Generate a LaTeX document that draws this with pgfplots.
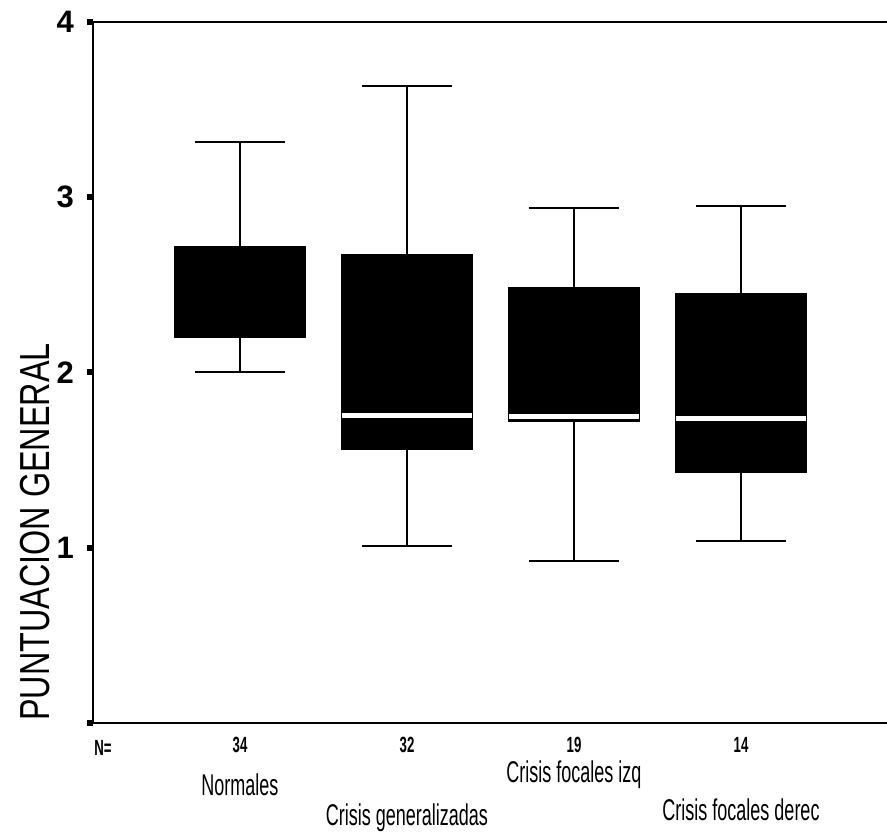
\documentclass[border=0pt]{standalone}
\usepackage{fontspec}
\setmainfont{Liberation Sans}
\newfontfamily\cond[FakeStretch=0.6]{Liberation Sans}
\newfontfamily\condlab[FakeStretch=0.77]{Liberation Sans}
\usepackage{pgfplots}
\usepgfplotslibrary{statistics}
\pgfplotsset{compat=1.18}
\begin{document}
\begin{tikzpicture}
\useasboundingbox (-46.5pt,-55pt) rectangle (397pt,361.5pt);
\begin{axis}[
  at={(0pt,0pt)}, anchor=south west,
  scale only axis, width=407.48pt, height=350.5pt,
  xmin=0.12, xmax=5.0, ymin=0, ymax=4,
  clip=false,
  xtick=\empty,
  ytick={0,1,2,3,4}, yticklabels={,1,2,3,4},
  ytick pos=left, tick align=outside,
  major tick length=3pt,
  ytick style={line width=3pt, black},
  /pgf/number format/assume math mode=true,
  yticklabel style={font=\bfseries\fontsize{15.5}{16}\selectfont, xshift=-3pt},
  axis line style={line width=1.1pt, black},
  boxplot/draw direction=y,
  boxplot/box extend=0.78,
  boxplot/whisker extend=0.54,
  boxplot/every whisker/.style={line width=1pt},
  boxplot/every box/.style={fill=black, draw=black, line width=0.8pt},
]
\addplot[black, boxplot prepared={median=2.50, upper quartile=2.716, lower quartile=2.203,
  upper whisker=3.315, lower whisker=2.003, draw position=1},
  boxplot/every median/.style={draw=black, line width=0.8pt}] coordinates {};
\addplot[black, boxplot prepared={median=1.757, upper quartile=2.670, lower quartile=1.563,
  upper whisker=3.635, lower whisker=1.010, draw position=2},
  boxplot/every median/.style={draw=white, line width=2.5pt}] coordinates {};
\addplot[black, boxplot prepared={median=1.748, upper quartile=2.482, lower quartile=1.720,
  upper whisker=2.939, lower whisker=0.924, draw position=3},
  boxplot/every median/.style={draw=white, line width=2.2pt}] coordinates {};
\addplot[black, boxplot prepared={median=1.740, upper quartile=2.448, lower quartile=1.432,
  upper whisker=2.950, lower whisker=1.039, draw position=4},
  boxplot/every median/.style={draw=white, line width=2.5pt}] coordinates {};
\end{axis}
\node[rotate=90, font=\condlab\fontsize{21}{21}\selectfont] at (-29pt,95.5pt) {PUNTUACION GENERAL};
\node[font=\cond\bfseries\fontsize{11}{11}\selectfont] at (5pt,-12.5pt) {N=};
\node[font=\cond\bfseries\fontsize{11}{11}\selectfont] at (73.5pt,-11pt) {34};
\node[font=\cond\bfseries\fontsize{11}{11}\selectfont] at (157pt,-11pt) {32};
\node[font=\cond\bfseries\fontsize{11}{11}\selectfont] at (240.5pt,-11pt) {19};
\node[font=\cond\bfseries\fontsize{11}{11}\selectfont] at (324pt,-11pt) {14};
\node[font=\cond\fontsize{15}{15}\selectfont] at (73.5pt,-31pt) {Normales};
\node[font=\cond\fontsize{15}{15}\selectfont] at (157pt,-47.5pt) {Crisis generalizadas};
\node[font=\cond\fontsize{15}{15}\selectfont] at (240.5pt,-26pt) {Crisis focales izq};
\node[font=\cond\fontsize{15}{15}\selectfont] at (324pt,-43.5pt) {Crisis focales derec};
\end{tikzpicture}
\end{document}
